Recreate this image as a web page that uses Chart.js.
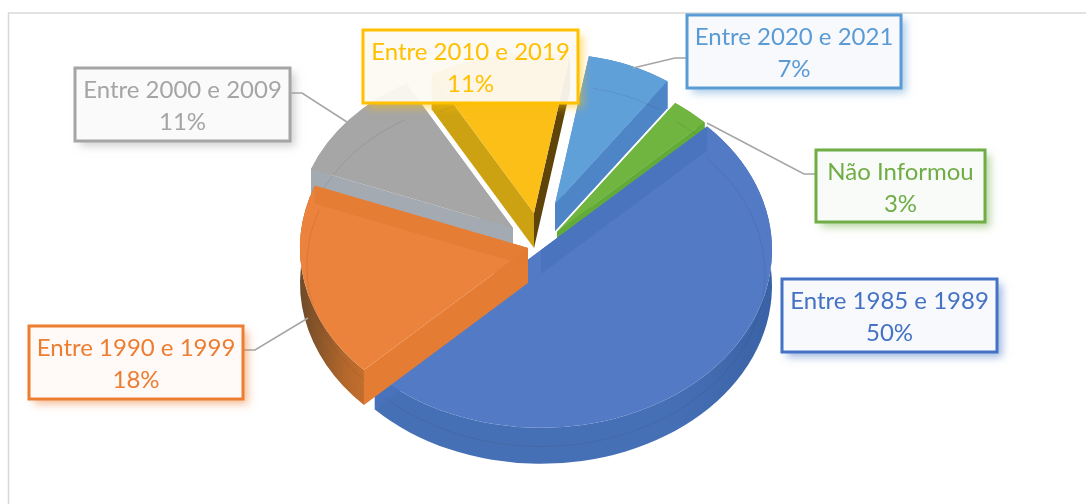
<!DOCTYPE html>
<html><head><meta charset="utf-8">
<style>html,body{margin:0;padding:0;background:#fff}canvas{display:block;filter:blur(.45px)}</style>
<script src="https://cdn.jsdelivr.net/npm/chart.js@4"></script>
</head><body>
<canvas id="c" width="1086" height="504"></canvas>
<script>
// ---- data ----
const categories = ["Entre 1985 e 1989","Entre 1990 e 1999","Entre 2000 e 2009","Entre 2010 e 2019","Entre 2020 e 2021","Não Informou"];
const percentages = [50,18,11,11,7,3];
// ---- style: top-face, wall, cut-face colours ----
const topColors  = ["#537AC5","#EC833C","#A6A6A6","#FBBF18","#60A0D9","#6FB53F"];
const wallColors = ["#4670B6","#E07A30","#A2A9B0","#C99F10","#4F86C8","#5C9A34"];
const faceColors = ["#4873BC","#E57C33","#A3AAB1","#CDA212","#4D85C6","#62A838"];
const labelInk   = ["#4472C4","#ED7D31","#A5A5A5","#FFC000","#5B9BD5","#70AD47"];
const labelFill  = ["rgba(247,249,253,.94)","rgba(255,250,246,.94)","rgba(250,250,250,.94)","rgba(253,250,243,.94)","rgba(246,249,253,.94)","rgba(248,251,246,.94)"];
// ---- 3D layout of the exploded slices: [centre x, centre y, radius, wall depth, band depth] ----
const tilt = 0.77;
const explode = [[541,250,231,36,24],[528,248,228,35,18],[513,228,216,35,30],[534,213,207,35,35],[555,204,195,27,27],[557,232,205,12,12]];
const paintOrder = [2,3,5,4,0,1];
// ---- callouts: [left, top, width, height], leader polyline ----
const boxes = [[782,279,215,73],[29,326,214,73],[75,68,215,73],[363,30,215,73],[687,15,214,73],[816,150,169,72]];
const leaders = [null,[[243,350],[255,350],[308,318]],[[290,93],[302,93],[347,122]],null,[[687,58],[675,58],[633,68]],[[816,174],[804,174],[707,123]]];

const tilted = {
  id:'tilted',
  beforeDraw(chart){
    const c=chart.ctx; c.save();
    c.strokeStyle='#D9D9D9'; c.lineWidth=1.5;
    c.beginPath(); c.moveTo(8.5,504); c.lineTo(8.5,13); c.lineTo(1086,13); c.stroke();
    c.restore();
  },
  beforeDatasetDraw(){ return false; },
  afterDatasetsDraw(chart){
    const c=chart.ctx, arcs=chart.getDatasetMeta(0).data;
    for(const i of paintOrder){
      const el=arcs[i], [px,py,r,d,band]=explode[i], a0=el.startAngle, a1=el.endAngle, ry=r*tilt;
      c.save();
      // outer wall
      c.beginPath(); c.ellipse(px,py,r,ry,0,a0,a1); c.ellipse(px,py+d,r,ry,0,a1,a0,true); c.closePath();
      if(i===1){
        const g=c.createLinearGradient(px-r,0,px-r*0.55,0);
        g.addColorStop(0,'#6E4A28'); g.addColorStop(.45,'#B5682C'); g.addColorStop(1,wallColors[i]);
        c.fillStyle=g;
      } else if(i===0){
        const g=c.createLinearGradient(px+r,0,px+r*0.55,0);
        g.addColorStop(0,'#3A62A6'); g.addColorStop(1,wallColors[i]);
        c.fillStyle=g;
      } else c.fillStyle=wallColors[i];
      c.fill();
      // cut faces below the two radial edges
      const face=(a,dep,col)=>{
        const x=px+Math.cos(a)*r, y=py+Math.sin(a)*ry;
        c.beginPath(); c.moveTo(px,py); c.lineTo(x,y); c.lineTo(x,y+dep); c.lineTo(px,py+dep); c.closePath();
        c.fillStyle=col; c.fill();
      };
      face(a0,d,faceColors[i]);
      face(a1,d,i===3?'#5E4408':faceColors[i]);
      // top face: drawn by the library's arc element
      const k=r/el.outerRadius;
      c.save();
      c.translate(px,py); c.scale(k,k*tilt); c.translate(-el.x,-el.y);
      el.draw(c);
      c.restore();
      // see-through back faces and rim, as on the original
      c.globalAlpha=.75;
      if(i===0) face(a0,band,faceColors[i]);
      if(i===1) face(a1,band,'#E37B33');
      if(i===4) face(a1,band,faceColors[i]);
      if(i===5) face(a1,band,'#64AC38');
      c.globalAlpha=.12;
      c.strokeStyle='#333'; c.lineWidth=1;
      c.beginPath(); c.ellipse(px,py+band,r*.97,ry*.97,0,a0+.03,a1-.03); c.stroke();
      c.restore();
    }
    drawCallouts(c);
  }
};

function drawCallouts(c){
  categories.forEach((name,i)=>{
    const [x,y,w,h]=boxes[i];
    if(leaders[i]){
      c.save(); c.strokeStyle='#A5A5A5'; c.lineWidth=1.5; c.beginPath();
      leaders[i].forEach((p,j)=> j?c.lineTo(p[0],p[1]):c.moveTo(p[0],p[1])); c.stroke(); c.restore();
    }
    // shadow only outside of the translucent box
    c.save();
    c.beginPath(); c.rect(0,0,1086,504); c.rect(x,y,w,h); c.clip('evenodd');
    c.shadowColor=labelInk[i]+'80'; c.shadowBlur=8; c.shadowOffsetX=5; c.shadowOffsetY=5;
    c.fillStyle='#fff'; c.fillRect(x,y,w,h);
    c.restore();
    c.save();
    c.fillStyle=labelFill[i]; c.fillRect(x,y,w,h);
    c.strokeStyle=labelInk[i]; c.lineWidth=3; c.strokeRect(x,y,w,h);
    c.fillStyle=labelInk[i]; c.textAlign='center'; c.textBaseline='middle';
    c.font='24px Lato';
    c.fillText(name,x+w/2,y+22);
    c.fillText(percentages[i]+'%',x+w/2,y+54);
    c.restore();
  });
}

new Chart(document.getElementById('c'),{
  type:'pie',
  data:{labels:categories,datasets:[{data:percentages,backgroundColor:topColors,borderWidth:0}]},
  options:{responsive:false,animation:false,events:[],rotation:46,
    layout:{padding:0},plugins:{legend:{display:false},tooltip:{enabled:false}}},
  plugins:[tilted]
});
</script>
</body></html>
